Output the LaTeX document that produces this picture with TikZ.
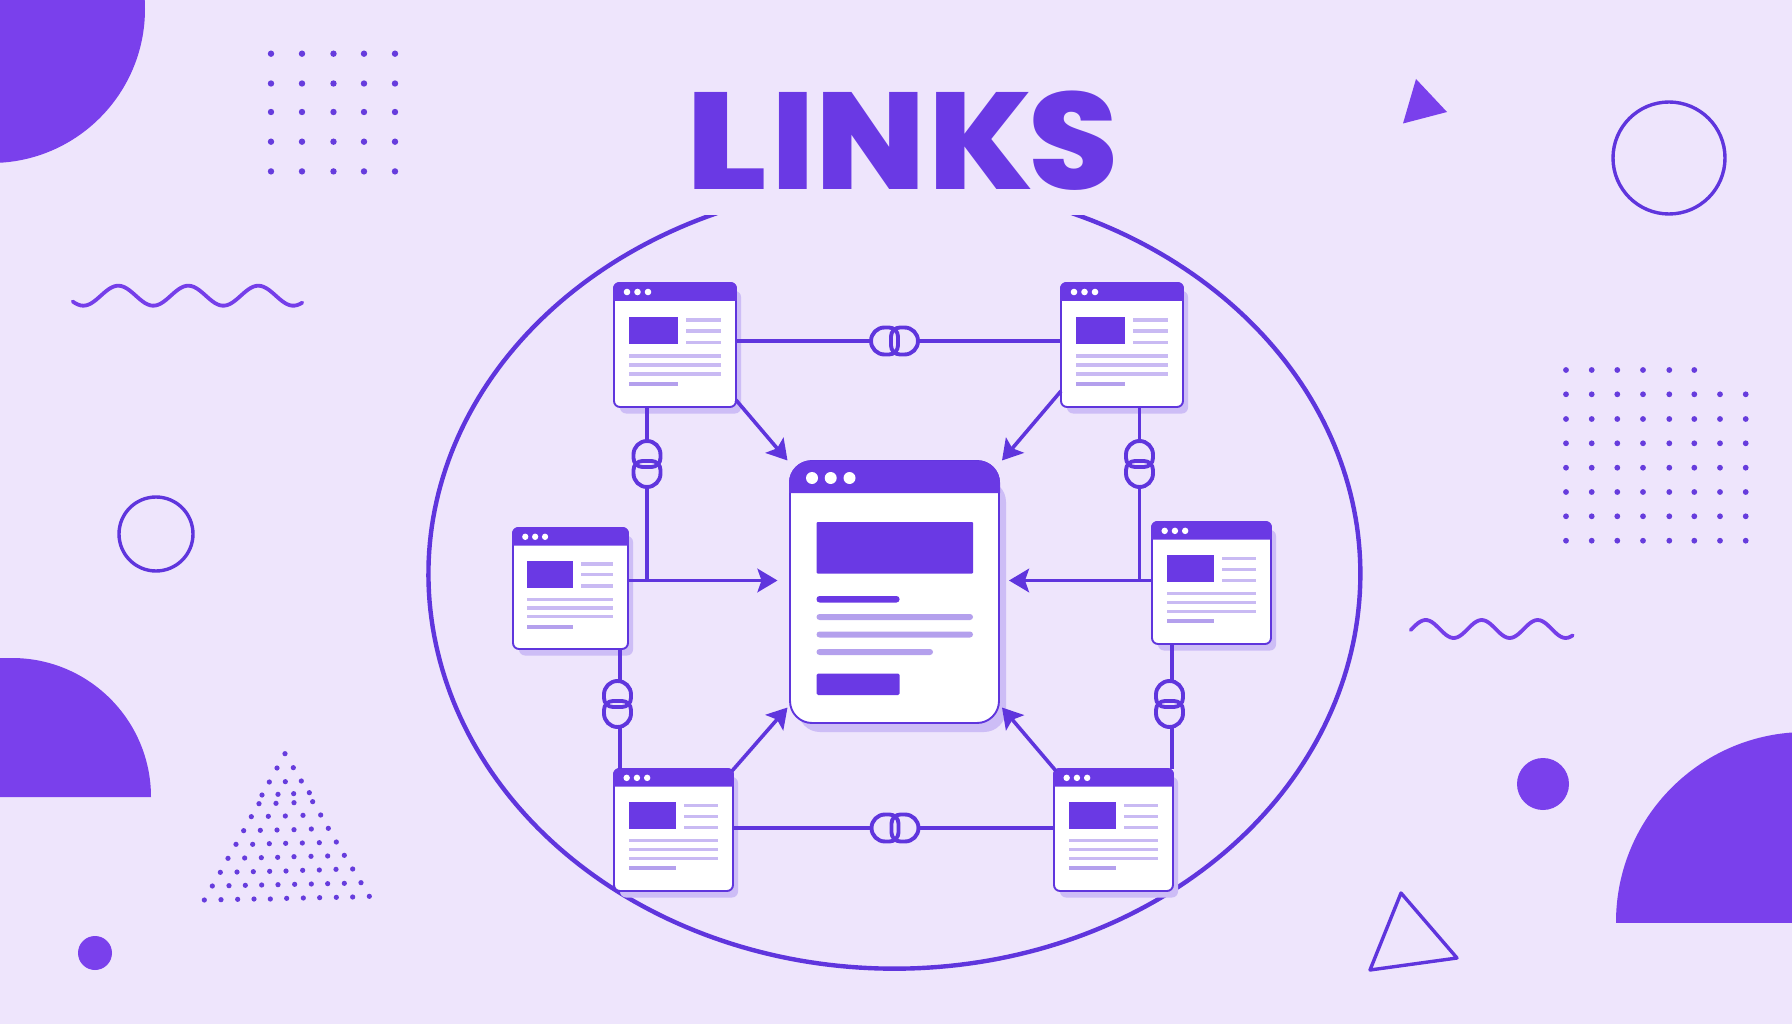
\documentclass[tikz,border=0pt]{standalone}
\usepackage{fontspec}
\usetikzlibrary{arrows.meta,calc}
\newfontfamily\titlefont{Poppins}[UprightFont=* ExtraBold]
\definecolor{paper}{HTML}{EEE5FC}
\definecolor{ink}{HTML}{5F35DD}
\definecolor{barfill}{HTML}{6A39E4}
\definecolor{blob}{HTML}{7A40EC}
\definecolor{dotfill}{HTML}{663CDD}
\definecolor{softline}{HTML}{C9BAF3}
\definecolor{softmid}{HTML}{B4A0ED}
\definecolor{castshade}{HTML}{CDBDF6}
\tikzset{
  x=1pt,y=-1pt,
  halo/.style={draw=ink,line width=4.4pt},
  wire/.style={draw=ink,line width=3.6pt},
  pointer/.style={wire,-{Stealth[length=20pt,width=23.5pt,inset=4pt]}},
  chain/.style={draw=ink,line width=3.9pt},
  winbody/.style={draw=ink,line width=1.9pt,fill=white,inner sep=0pt,outer sep=0pt,rounded corners=#1},
  winbody/.default=6pt,
  linkslot/.style={inner sep=0pt,outer sep=0pt},
  outline/.style={draw=ink,line width=3.4pt,fill=none},
  squiggle/.style={draw=blob!80!ink,line width=3.8pt,line cap=round,smooth},
  speck/.style={fill=dotfill},
}
% Small browser page: name, left, top, width, height
\newcommand{\pagewin}[5]{%
  \pgfmathsetmacro{\wr}{#2+#4}\pgfmathsetmacro{\wb}{#3+#5}
  \pgfmathsetmacro{\wcx}{#2+#4/2}\pgfmathsetmacro{\wcy}{#3+#5/2}
  \pgfmathsetmacro{\sx}{#4/122}\pgfmathsetmacro{\sy}{#5/124}
  \pgfmathsetmacro{\wt}{#3+18*\sy}
  \fill[castshade,rounded corners=6pt] (#2+6,#3+8) rectangle (\wr+5,\wb+6.5);
  \node[winbody,minimum width=#4pt,minimum height=#5pt] (#1) at (\wcx,\wcy) {};
  \fill[barfill] (#2-.9,\wt) [rounded corners=6pt] -- (#2-.9,#3-.9) -- (\wr+.9,#3-.9) [sharp corners] -- (\wr+.9,\wt) -- cycle;
  \begin{scope}[shift={(#2,#3)},xscale=\sx,yscale=\sy]
    \foreach \dx in {13,23.5,34} \fill[white] (\dx,9) circle[radius=3.3pt];
    \fill[barfill] (15,34) rectangle (64,61);
    \foreach \ly in {37,48,59.5} \fill[softline] (72,\ly-1.7) rectangle (106.5,\ly+1.7);
    \foreach \ly in {73,82,91} \fill[softline] (15,\ly-1.6) rectangle (106.5,\ly+1.6);
    \fill[softmid] (15,99) rectangle (64,103);
  \end{scope}
}
% Chain icons, lying and standing: name, x, y.
% Each link has a round outer end and a tighter inner end.
\newcommand{\chainh}[3]{%
  \node[linkslot,minimum width=47pt,minimum height=27pt] (#1) at (#2,#3) {};
  \draw[chain] (#2-10,#3-13.5) arc[start angle=90,end angle=270,radius=13.5pt]
    -- (#2-5.5,#3+13.5) arc[start angle=-90,end angle=0,radius=9pt]
    -- (#2+3.5,#3-4.5) arc[start angle=0,end angle=90,radius=9pt] -- cycle;
  \draw[chain] (#2+10,#3-13.5) arc[start angle=90,end angle=-90,radius=13.5pt]
    -- (#2+5.5,#3+13.5) arc[start angle=-90,end angle=-180,radius=9pt]
    -- (#2-3.5,#3-4.5) arc[start angle=180,end angle=90,radius=9pt] -- cycle;
}
\newcommand{\chainv}[3]{%
  \node[linkslot,minimum width=27pt,minimum height=46pt] (#1) at (#2,#3) {};
  \draw[chain] (#2-13.5,#3-9.5) arc[start angle=180,end angle=0,radius=13.5pt]
    -- (#2+13.5,#3-6) arc[start angle=0,end angle=-90,radius=9pt]
    -- (#2-4.5,#3+3) arc[start angle=-90,end angle=-180,radius=9pt] -- cycle;
  \draw[chain] (#2-13.5,#3+9.5) arc[start angle=180,end angle=360,radius=13.5pt]
    -- (#2+13.5,#3+6) arc[start angle=0,end angle=90,radius=9pt]
    -- (#2-4.5,#3-3) arc[start angle=90,end angle=180,radius=9pt] -- cycle;
}
\begin{document}
\begin{tikzpicture}
\useasboundingbox (0,0) rectangle (1792,1024);
\clip (0,0) rectangle (1792,1024);
\fill[paper] (0,0) rectangle (1792,1024);

% Corner shapes
\fill[blob] (-9,9) circle[radius=154pt];
\fill[blob] (0,797) -- (0,658) -- (12,658) arc[start angle=90,end angle=0,radius=139pt] -- cycle;
\begin{scope}
  \clip (1600,700) rectangle (1792,922);
  \fill[blob] (1806,922) circle[radius=190pt];
\end{scope}

% Loose circles and triangles
\fill[blob] (1543,784) circle[radius=26pt];
\fill[blob] (95,953) circle[radius=17pt];
\draw[outline] (1669,158) circle[radius=56pt];
\draw[outline] (156,534) circle[radius=37pt];
\fill[blob] (1416,79) -- (1447,112) -- (1403,123.5) -- cycle;
\draw[outline,line join=round] (1401,893) -- (1457,958) -- (1370,970) -- cycle;

% Wavy strokes
\draw[squiggle] plot[domain=72.7:302.3,samples=90] (\x,{295.7-10*cos((\x-118.3)/70*360)});
\draw[squiggle] plot[domain=1410.7:1572.7,samples=70] (\x,{629-9*cos((\x-1425.7)/56*360)});

% Dot fields
\foreach \px in {271,302,333.5,364,395}
  \foreach \py in {53.7,83.5,112,141.7,171.4}
    \fill[speck] (\px,\py) circle[radius=3.2pt];
\foreach \px in {1566,1591.7,1617.3,1643,1669.3,1694.3}
  \fill[speck] (\px,370) circle[radius=2.9pt];
\foreach \py in {394.3,419,443.3,467.7,492,516.3,540.7}
  \foreach \px in {1566,1591.7,1617.3,1643,1669.3,1694.3,1720,1745.7}
    \fill[speck] (\px,\py) circle[radius=2.9pt];
\foreach \gx/\gy in {315/71,
  291/114,340/113,
  268/156,316/155,364/153,
  246/195,294/193,341/191,388/188,
  237/221,288/220,342/218,398/215,
  214/260,265/259,316/258,369/256,422/255,
  191/302,241/301,291/300,342/299,394/297,445/295,
  168/343,218/343,268/341,317/340,367/339,418/338,469/336,
  144/385,194/384,244/383,293/382,342/380,393/379,443/378,493/376,
  121/427,171/426,220/425,269/424,318/423,368/421,418/420,468/418,518/417,
  97/468,147/467,196/466,245/465,294/464,344/463,394/462,443/461,493/460,543/458,
  73/510,123/509,173/508,222/507,271/507,320/505,370/504,419/503,469/502,518/501,568/499}
  \fill[speck] ({180+\gx/3},{730+\gy/3}) circle[radius=2.6pt];

% Heading, with each letter fitted by width and spacing
\node[inner sep=0pt,text=barfill] (heading) at (902,140.3) {\resizebox*{433pt}{99.5pt}{\titlefont
  \scalebox{1.12}[1]{L}\kern.03em\scalebox{.95}[1]{I}\scalebox{.97}[1]{N}\kern.015em\scalebox{.97}[1]{K}\kern-.03em\scalebox{.975}[1]{S}}};

% Ring around the pages, open at the top with level cut ends
\begin{scope}
  \clip (300,216) rectangle (1500,1024);
  \draw[halo] plot[domain=-70:250,samples=260]
    ({894.4+466*cos(\x)},{573.7+(sin(\x)>0?395:390)*sin(\x)});
\end{scope}

% Central page
\fill[castshade,rounded corners=22pt] (798,480) rectangle (1006,732);
\node[winbody=22pt,minimum width=209pt,minimum height=262pt] (hub) at (894.5,592) {};
\fill[barfill] (789,493) [rounded corners=22pt] -- (789,460.5) -- (1000,460.5) [sharp corners] -- (1000,493) -- cycle;
\foreach \dx in {812,830.7,849.5} \fill[white] (\dx,478) circle[radius=6pt];
\fill[barfill,rounded corners=1pt] (816.5,522) rectangle (973,573.5);
\fill[barfill,rounded corners=3pt] (816.5,596) rectangle (899.5,602.5);
\fill[softmid,rounded corners=3pt] (816.5,614) rectangle (973,620);
\fill[softmid,rounded corners=3pt] (816.5,631.5) rectangle (973,637.5);
\fill[softmid,rounded corners=3pt] (816.5,649) rectangle (933,655);
\fill[barfill,rounded corners=1.5pt] (816.5,673.5) rectangle (899.5,695);

% Surrounding pages
\pagewin{pageNW}{614}{283}{122}{124}
\pagewin{pageNE}{1061}{283}{122}{124}
\pagewin{pageW}{513}{528}{115}{121}
\pagewin{pageE}{1152}{522}{119}{122}
\pagewin{pageSW}{614}{769}{119}{122}
\pagewin{pageSE}{1054}{769}{119}{122}

% Chain icons
\chainh{chainTop}{894.5}{341}
\chainh{chainBot}{895}{828}
\chainv{chainNW}{647}{464}
\chainv{chainNE}{1139.5}{464}
\chainv{chainSW}{617.5}{704}
\chainv{chainSE}{1169.5}{704}

% Junctions and arrow tips near the central page
\coordinate (armW) at (647,580.5);
\coordinate (armE) at (1139.5,580.5);
\coordinate (tipW) at (777.5,580.5);
\coordinate (tipE) at (1009,580.5);
\coordinate (tipNW) at (787.5,460.5);
\coordinate (tipNE) at (1002,460.5);
\coordinate (tipSW) at (787.5,707.5);
\coordinate (tipSE) at (1002,707.5);

% Chained connections
\draw[wire] (pageNW.east |- chainTop) -- (chainTop.west);
\draw[wire] (chainTop.east) -- (pageNE.west |- chainTop);
\draw[wire] (pageSW.east |- chainBot) -- (chainBot.west);
\draw[wire] (chainBot.east) -- (pageSE.west |- chainBot);
\draw[wire] (chainNW |- pageNW.south) -- (chainNW.north);
\draw[wire] (chainNW.south) -- (armW);
\draw[wire] (chainNE |- pageNE.south) -- (chainNE.north);
\draw[wire] (chainNE.south) -- (armE);
\draw[wire] ($(chainSW |- pageW.south)+(2.5,0)$) -- ($(chainSW.north)+(2.5,0)$);
\draw[wire] ($(chainSW.south)+(2.5,0)$) -- ($(chainSW |- pageSW.north)+(2.5,0)$);
\draw[wire] ($(chainSE |- pageE.south)+(2.5,0)$) -- ($(chainSE.north)+(2.5,0)$);
\draw[wire] ($(chainSE.south)+(2.5,0)$) -- ($(chainSE |- pageSE.north)+(2.5,0)$);

% Arrows into the central page
\draw[pointer] (pageW.east |- tipW) -- (tipW);
\draw[pointer] (pageE.west |- tipE) -- (tipE);
\draw[pointer] ($(pageNW.south east)+(0,-7)$) -- (tipNW);
\draw[pointer] ($(pageNE.south west)+(0,-16)$) -- (tipNE);
\draw[pointer] ($(pageSW.north east)+(-1,2)$) -- (tipSW);
\draw[pointer] ($(pageSE.north west)+(2,2)$) -- (tipSE);
\end{tikzpicture}
\end{document}
